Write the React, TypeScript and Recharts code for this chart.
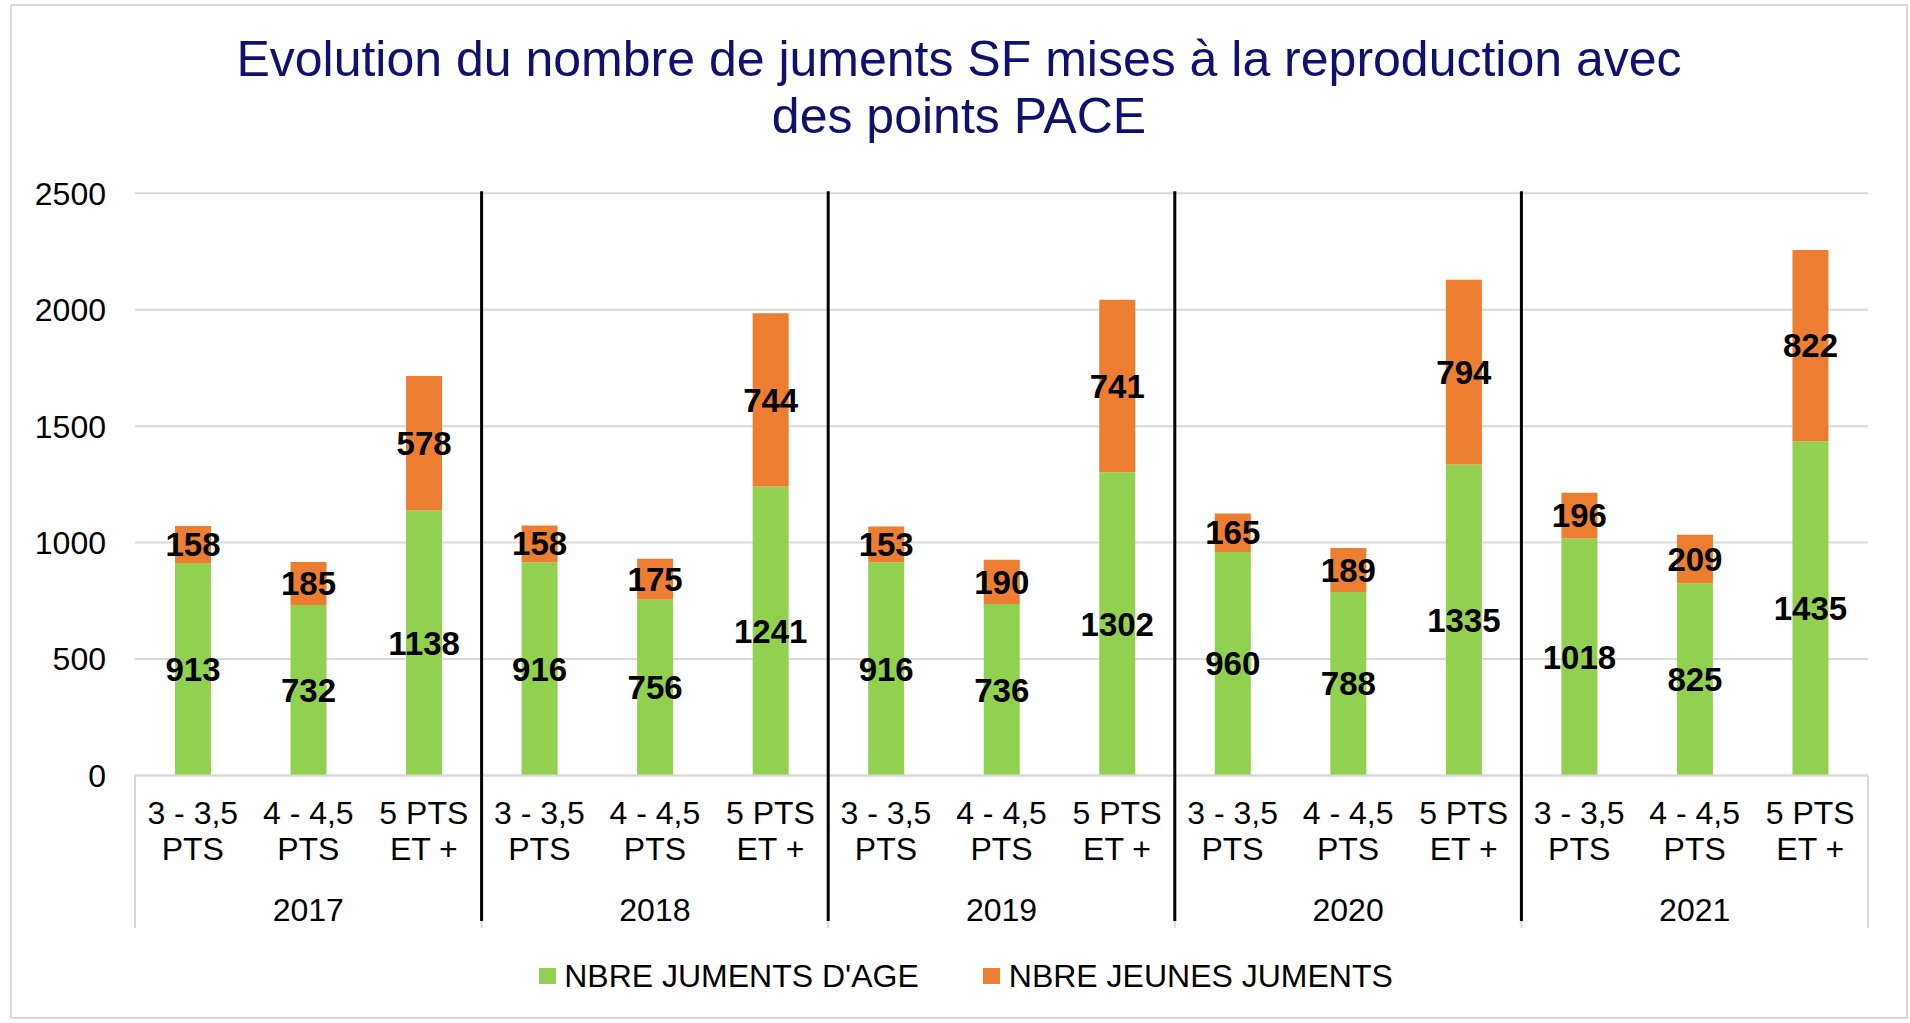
import React from 'react';
import { BarChart, Bar, XAxis, YAxis, CartesianGrid, Legend, LabelList } from 'recharts';

// ---------- data ----------
const years = ['2017', '2018', '2019', '2020', '2021'];
const classLabels = [
  ['3 - 3,5', 'PTS'],
  ['4 - 4,5', 'PTS'],
  ['5 PTS', 'ET +'],
];
const jumentsAge = [913, 732, 1138, 916, 756, 1241, 916, 736, 1302, 960, 788, 1335, 1018, 825, 1435];
const jeunesJuments = [158, 185, 578, 158, 175, 744, 153, 190, 741, 165, 189, 794, 196, 209, 822];
const yTicks = [0, 500, 1000, 1500, 2000, 2500];
const seriesNames = ["NBRE JUMENTS D'AGE", 'NBRE JEUNES JUMENTS'];
const seriesColors = ['#92D050', '#ED7D31'];
const titleLines = ['Evolution du nombre de juments SF mises à la reproduction avec', 'des points PACE'];

const data = years.flatMap((year, yi) =>
  classLabels.map((cls, ci) => {
    const i = yi * classLabels.length + ci;
    return { key: `${year} ${cls.join(' ')}`, year, cls, age: jumentsAge[i], jeunes: jeunesJuments[i] };
  })
);

// ---------- layout ----------
const W = 1910;
const H = 1023;
const FONT = '"Liberation Sans", Arial, Helvetica, sans-serif';
const PLOT_LEFT = 135;
const PLOT_RIGHT = 1868;
const PLOT_TOP = 193.3;
const X_AXIS_H = 150;
const LEGEND_H = 70;
const MARGIN_BOTTOM = 27.5;
const BAND = (PLOT_RIGHT - PLOT_LEFT) / data.length;
const GRID = '#d9d9d9';

const CategoryTick = (props: any) => {
  const { x, y } = props;
  const index: number = props.index ?? props.payload?.index ?? 0;
  const d = data[index];
  if (!d) return null;
  const per = classLabels.length;
  const ci = index % per;
  const els: any[] = [];
  const txt = { fontFamily: FONT, fontSize: 32, fill: '#000', textAnchor: 'middle' as const };
  els.push(
    <text key="l1" x={x} y={y + 48.5} {...txt}>
      {d.cls[0]}
    </text>
  );
  els.push(
    <text key="l2" x={x} y={y + 84.5} {...txt}>
      {d.cls[1]}
    </text>
  );
  if (ci === 1) {
    els.push(
      <text key="yr" x={x} y={y + 145} {...txt}>
        {d.year}
      </text>
    );
  }
  if (ci === 0) {
    const bx = x - BAND / 2;
    if (index === 0) {
      els.push(<line key="b0" x1={bx} x2={bx} y1={y} y2={y + 152.5} stroke={GRID} strokeWidth={2} />);
    } else {
      els.push(<line key="bk" x1={bx} x2={bx} y1={PLOT_TOP - 2} y2={y + 145.5} stroke="#000" strokeWidth={3} />);
      els.push(<line key="bg" x1={bx} x2={bx} y1={y + 145.5} y2={y + 152.5} stroke={GRID} strokeWidth={2} />);
    }
  }
  if (index === data.length - 1) {
    const bx = x + BAND / 2;
    els.push(<line key="be" x1={bx} x2={bx} y1={y} y2={y + 152.5} stroke={GRID} strokeWidth={2} />);
  }
  return <g>{els}</g>;
};

const LegendContent = (props: any) => {
  const payload = [...(props.payload || [])].sort(
    (a: any, b: any) => seriesNames.indexOf(a.value) - seriesNames.indexOf(b.value)
  );
  return (
    <div
      style={{
        height: LEGEND_H,
        boxSizing: 'border-box',
        paddingTop: 34,
        paddingLeft: 29,
        display: 'flex',
        justifyContent: 'center',
        alignItems: 'flex-start',
        fontFamily: FONT,
      }}
    >
      {payload.map((p: any, i: number) => (
        <div
          key={i}
          style={{ display: 'flex', alignItems: 'center', height: 32, marginLeft: i === 0 ? 0 : 64 }}
        >
          <span style={{ display: 'inline-block', width: 17, height: 16, background: p.color, marginRight: i === 0 ? 8 : 9 }} />
          <span style={{ fontSize: 32, lineHeight: '32px', color: '#000', whiteSpace: 'nowrap' }}>{p.value}</span>
        </div>
      ))}
    </div>
  );
};

export default function App() {
  return (
    <div style={{ position: 'absolute', left: 0, top: 0, width: W, height: H, background: '#fff', overflow: 'hidden' }}>
      <div
        style={{
          position: 'absolute',
          left: 10,
          top: 4,
          width: 1898,
          height: 1015,
          boxSizing: 'border-box',
          border: `2px solid ${GRID}`,
        }}
      />
      <div
        style={{
          position: 'absolute',
          left: 10,
          top: 31,
          width: 1898,
          textAlign: 'center',
          fontFamily: FONT,
          fontSize: 50,
          lineHeight: '57px',
          color: '#10106f',
        }}
      >
        {titleLines.map((t, i) => (
          <div key={i}>{t}</div>
        ))}
      </div>
      <div style={{ position: 'absolute', left: 0, top: 0 }}>
        <BarChart
          width={W}
          height={H}
          data={data}
          margin={{ top: PLOT_TOP, left: 35, right: W - PLOT_RIGHT, bottom: MARGIN_BOTTOM }}
          style={{ fontFamily: FONT }}
        >
          <CartesianGrid horizontal vertical={false} stroke={GRID} strokeWidth={2} />
          <YAxis
            domain={[0, 2500]}
            ticks={yTicks}
            width={100}
            axisLine={false}
            tickLine={false}
            tickSize={0}
            tickMargin={29}
            tick={{ fill: '#000', fontSize: 32, fontFamily: FONT }}
          />
          <XAxis
            dataKey="key"
            interval={0}
            height={X_AXIS_H}
            tickSize={0}
            tickMargin={0}
            tickLine={false}
            axisLine={{ stroke: GRID, strokeWidth: 2 }}
            tick={<CategoryTick />}
          />
          <Legend verticalAlign="bottom" height={LEGEND_H} content={<LegendContent />} />
          <Bar dataKey="age" name={seriesNames[0]} stackId="s" fill={seriesColors[0]} barSize={36} isAnimationActive={false}>
            <LabelList dataKey="age" position="center" fill="#000" fontSize={33} fontWeight={700} fontFamily={FONT} />
          </Bar>
          <Bar dataKey="jeunes" name={seriesNames[1]} stackId="s" fill={seriesColors[1]} barSize={36} isAnimationActive={false}>
            <LabelList dataKey="jeunes" position="center" fill="#000" fontSize={33} fontWeight={700} fontFamily={FONT} />
          </Bar>
        </BarChart>
      </div>
    </div>
  );
}
